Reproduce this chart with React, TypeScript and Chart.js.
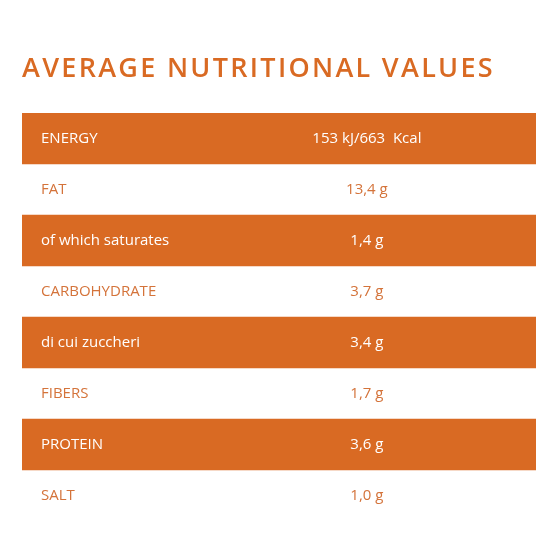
import React, { useEffect, useRef } from "react";
import { Chart, registerables } from "chart.js";

Chart.register(...registerables);

const titleText = "AVERAGE NUTRITIONAL VALUES";
const nutrients = [
  "ENERGY",
  "FAT",
  "of which saturates",
  "CARBOHYDRATE",
  "di cui zuccheri",
  "FIBERS",
  "PROTEIN",
  "SALT",
];
const amounts = [
  "153 kJ/663  Kcal",
  "13,4 g",
  "1,4 g",
  "3,7 g",
  "3,4 g",
  "1,7 g",
  "3,6 g",
  "1,0 g",
];
// each row is a full-width cell
const cellSpan = [1, 1, 1, 1, 1, 1, 1, 1];

const ORANGE = "#d96a23";
const TEXT_ORANGE = "#d4733a";
const WHITE = "#ffffff";
const FONT = "'Open Sans', sans-serif";
const VALUE_COL = 0.671;

const spacingPlugin = {
  id: "titleSpacing",
  beforeDraw(chart: any) {
    chart.ctx.letterSpacing = "2.3px";
  },
  beforeDatasetsDraw(chart: any) {
    chart.ctx.letterSpacing = "0px";
  },
};

const valuePlugin = {
  id: "valueColumn",
  afterDatasetsDraw(chart: any) {
    const { ctx, scales } = chart;
    const x = scales.x.getPixelForValue(VALUE_COL);
    ctx.save();
    ctx.letterSpacing = "0px";
    ctx.font = `400 15px ${FONT}`;
    ctx.textAlign = "center";
    ctx.textBaseline = "middle";
    amounts.forEach((a, i) => {
      ctx.fillStyle = i % 2 === 0 ? WHITE : TEXT_ORANGE;
      ctx.fillText(a, x, scales.y.getPixelForValue(i));
    });
    ctx.restore();
  },
};

export default function App() {
  const ref = useRef<HTMLCanvasElement>(null);
  useEffect(() => {
    if (!ref.current) return;
    const chart = new Chart(ref.current, {
      type: "bar",
      data: {
        labels: nutrients,
        datasets: [
          {
            data: cellSpan,
            backgroundColor: (c: any) => (c.dataIndex % 2 === 0 ? ORANGE : "rgba(0,0,0,0)"),
            borderWidth: 0,
            categoryPercentage: 1,
            barPercentage: 1,
          },
        ],
      },
      options: {
        indexAxis: "y",
        responsive: false,
        animation: false,
        layout: { padding: { left: 22, right: 24, top: 0, bottom: 39 } },
        scales: {
          x: { display: false, min: 0, max: 1 },
          y: {
            grid: { display: false, drawTicks: false },
            border: { display: false },
            afterFit: (axis: any) => {
              axis.width = 0;
            },
            ticks: {
              z: 1,
              mirror: true,
              padding: 19,
              font: { family: FONT, size: 15, weight: "400" },
              color: (c: any) => (c.index % 2 === 0 ? WHITE : TEXT_ORANGE),
            },
          },
        },
        plugins: {
          legend: { display: false },
          tooltip: { enabled: false },
          title: {
            display: true,
            text: titleText,
            align: "start",
            color: ORANGE,
            font: { family: FONT, size: 27, weight: "600" },
            padding: { top: 53.4, bottom: 27.2 },
          },
        },
      },
      plugins: [spacingPlugin, valuePlugin],
    } as any);
    return () => chart.destroy();
  }, []);
  return (
    <div style={{ position: "fixed", left: 0, top: 0, width: 560, height: 560, background: "#fff" }}>
      <canvas ref={ref} width={560} height={560} />
    </div>
  );
}
